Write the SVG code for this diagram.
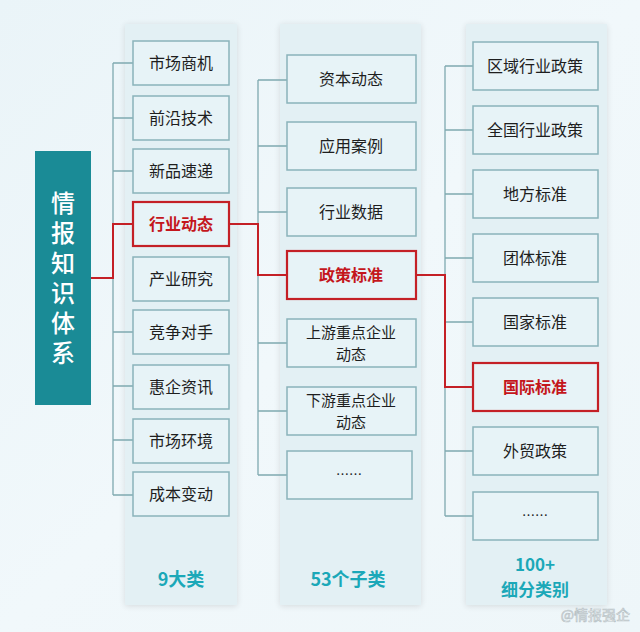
<svg xmlns="http://www.w3.org/2000/svg" width="640" height="632" viewBox="0 0 640 632">
<defs>
<linearGradient id="bg" x1="0" y1="0" x2="1" y2="1">
<stop offset="0" stop-color="#eaf4f8"/>
<stop offset="0.5" stop-color="#f1f8fb"/>
<stop offset="1" stop-color="#eef6f9"/>
</linearGradient>
<filter id="sh" x="-10%" y="-5%" width="120%" height="110%">
<feGaussianBlur in="SourceAlpha" stdDeviation="3"/>
<feOffset dx="0" dy="1"/>
<feComponentTransfer><feFuncA type="linear" slope="0.12"/></feComponentTransfer>
<feMerge><feMergeNode/><feMergeNode in="SourceGraphic"/></feMerge>
</filter>
</defs>
<style>
.panel{fill:#e3f0f4;filter:url(#sh)}
.box{fill:#e7f3f7;stroke:#8ab3ba;stroke-width:1.5}
.hot{fill:#e7f3f7;stroke:#c42026;stroke-width:2.2}
.t{font-family:"Noto Sans CJK SC","Noto Sans",sans-serif;font-size:16px;fill:#1e1e1e;text-anchor:middle}
.t2{font-family:"Noto Sans CJK SC","Noto Sans",sans-serif;font-size:15px;fill:#1e1e1e;text-anchor:middle}
.th{font-family:"Noto Sans CJK SC","Noto Sans",sans-serif;font-size:16px;font-weight:bold;fill:#c4161c;text-anchor:middle}
.root{font-family:"Noto Sans CJK SC","Noto Sans",sans-serif;font-size:24px;font-weight:500;fill:#ffffff;text-anchor:middle;writing-mode:vertical-rl;letter-spacing:6px}
.lbl{font-family:"Noto Sans CJK SC","Noto Sans",sans-serif;font-size:18px;font-weight:bold;fill:#1ba8b8;text-anchor:middle}
.lbl2{font-family:"Noto Sans CJK SC","Noto Sans",sans-serif;font-size:17px;font-weight:bold;fill:#1ba8b8;text-anchor:middle}
.ln{fill:none;stroke:#7fa9b0;stroke-width:1.3}
.red{fill:none;stroke:#c42026;stroke-width:2}
.wm{font-family:"Noto Sans CJK SC","Noto Sans",sans-serif;font-size:14px;fill:#ffffff;stroke:#b9c3c7;stroke-width:0.7;text-anchor:end}
</style>
<rect width="640" height="632" fill="url(#bg)"/>
<rect class="panel" x="125" y="24" width="112" height="581"/>
<rect class="panel" x="280" y="24" width="141" height="581"/>
<rect class="panel" x="466" y="24" width="141" height="581"/>

<g id="connectors">
<path class="ln" d="M113 63V495M113 63H133M113 118H133M113 171H133M113 332H133M113 386H133M113 440H133M113 495H133"/>
<path class="ln" d="M258 80V475M258 80H287M258 146H287M258 212H287M258 343H287M258 411H287M258 475H287"/>
<path class="ln" d="M445 66V516M445 66H473M445 130H473M445 194H473M445 258H473M445 322H473M445 451H473M445 516H473"/>
<path class="red" d="M91 278H113V224H133"/>
<path class="red" d="M229 224H258V275H287"/>
<path class="red" d="M416 275H445V387H473"/>
</g>

<g id="root">
<rect x="35" y="151" width="56" height="254" fill="#1a8b96"/>
<text class="root" x="63" y="281">情报知识体系</text>
</g>

<g id="c1-1"><rect class="box" x="133" y="41" width="96" height="44"/><text class="t" x="181" y="69">市场商机</text></g>
<g id="c1-2"><rect class="box" x="133" y="96" width="96" height="44"/><text class="t" x="181" y="124">前沿技术</text></g>
<g id="c1-3"><rect class="box" x="133" y="149" width="96" height="44"/><text class="t" x="181" y="177">新品速递</text></g>
<g id="c1-4"><rect class="hot" x="133" y="202" width="96" height="44"/><text class="th" x="181" y="230">行业动态</text></g>
<g id="c1-5"><rect class="box" x="133" y="257" width="96" height="44"/><text class="t" x="181" y="285">产业研究</text></g>
<g id="c1-6"><rect class="box" x="133" y="310" width="96" height="44"/><text class="t" x="181" y="338">竞争对手</text></g>
<g id="c1-7"><rect class="box" x="133" y="365" width="96" height="44"/><text class="t" x="181" y="393">惠企资讯</text></g>
<g id="c1-8"><rect class="box" x="133" y="419" width="96" height="44"/><text class="t" x="181" y="447">市场环境</text></g>
<g id="c1-9"><rect class="box" x="133" y="472" width="96" height="44"/><text class="t" x="181" y="500">成本变动</text></g>

<g id="c2-1"><rect class="box" x="287" y="55" width="129" height="48"/><text class="t" x="351" y="85">资本动态</text></g>
<g id="c2-2"><rect class="box" x="287" y="122" width="129" height="48"/><text class="t" x="351" y="152">应用案例</text></g>
<g id="c2-3"><rect class="box" x="287" y="188" width="129" height="48"/><text class="t" x="351" y="218">行业数据</text></g>
<g id="c2-4"><rect class="hot" x="287" y="251" width="129" height="48"/><text class="th" x="351" y="281">政策标准</text></g>
<g id="c2-5"><rect class="box" x="287" y="319" width="129" height="48"/><text class="t2" x="351" y="338">上游重点企业</text><text class="t2" x="351" y="360">动态</text></g>
<g id="c2-6"><rect class="box" x="287" y="387" width="129" height="48"/><text class="t2" x="351" y="406">下游重点企业</text><text class="t2" x="351" y="428">动态</text></g>
<g id="c2-7"><rect class="box" x="287" y="451" width="125" height="48"/><text class="t" x="349" y="479" style="font-size:13px">……</text></g>

<g id="c3-1"><rect class="box" x="473" y="42" width="125" height="48"/><text class="t" x="535" y="72">区域行业政策</text></g>
<g id="c3-2"><rect class="box" x="473" y="106" width="125" height="48"/><text class="t" x="535" y="136">全国行业政策</text></g>
<g id="c3-3"><rect class="box" x="473" y="170" width="125" height="48"/><text class="t" x="535" y="200">地方标准</text></g>
<g id="c3-4"><rect class="box" x="473" y="234" width="125" height="48"/><text class="t" x="535" y="264">团体标准</text></g>
<g id="c3-5"><rect class="box" x="473" y="298" width="125" height="48"/><text class="t" x="535" y="328">国家标准</text></g>
<g id="c3-6"><rect class="hot" x="473" y="363" width="125" height="48"/><text class="th" x="535" y="393">国际标准</text></g>
<g id="c3-7"><rect class="box" x="473" y="427" width="125" height="48"/><text class="t" x="535" y="457">外贸政策</text></g>
<g id="c3-8"><rect class="box" x="473" y="492" width="125" height="48"/><text class="t" x="535" y="520" style="font-size:13px">……</text></g>

<text class="lbl" x="181" y="586">9大类</text>
<text class="lbl" x="348" y="586">53个子类</text>
<text class="lbl2" x="535" y="571">100+</text>
<text class="lbl2" x="535" y="596">细分类别</text>
<text class="wm" x="630" y="620">@情报强企</text>
</svg>
